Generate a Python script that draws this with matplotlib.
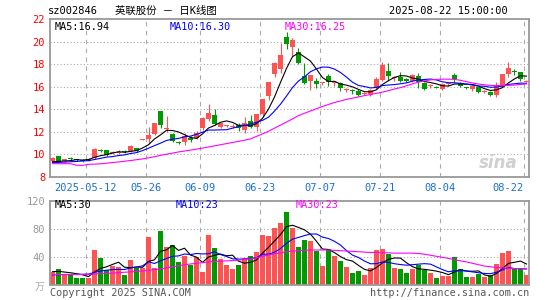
import numpy as np
import matplotlib
matplotlib.use('Agg')
import matplotlib.pyplot as plt

plt.rcParams['font.family'] = ['DejaVu Sans Mono', 'Noto Sans CJK SC']

# daily OHLC, 2025-04-29 .. 2025-08-22 (80 trading days)
opens = [9.42, 9.86, 9.42, 9.62, 9.56, 9.50, 9.45, 9.65, 10.38, 10.38,
         10.10, 10.16, 10.28, 10.30, 10.55, 11.28, 11.35, 11.80, 13.83, 12.28,
         11.85, 11.08, 11.07, 11.50, 11.48, 12.30, 13.16, 13.50, 12.40, 12.48,
         12.47, 12.64, 12.14, 12.99, 12.40, 13.60, 15.20, 17.10, 17.60, 20.40,
         19.54, 19.10, 16.97, 16.47, 16.53, 16.30, 16.97, 16.33, 16.32, 15.68,
         15.73, 15.65, 15.33, 15.32, 15.88, 16.60, 17.38, 16.74, 16.90, 16.65,
         16.47, 16.97, 16.32, 16.05, 15.97, 15.80, 16.20, 17.05, 16.30, 15.92,
         15.80, 15.95, 15.52, 15.56, 15.30, 16.15, 17.12, 17.38, 17.26, 16.45]
closes = [9.68, 9.35, 9.57, 9.58, 9.52, 9.46, 9.60, 10.52, 10.33, 9.98,
          10.17, 10.22, 10.24, 10.75, 10.30, 11.33, 11.68, 12.78, 12.58, 12.35,
          11.20, 11.02, 11.62, 11.30, 11.94, 13.20, 13.65, 12.72, 12.75, 12.54,
          12.53, 12.35, 12.75, 12.42, 13.60, 14.90, 16.45, 18.10, 18.85, 19.78,
          20.13, 18.10, 16.35, 17.03, 16.24, 16.35, 16.38, 16.38, 15.85, 15.72,
          15.60, 15.27, 15.38, 15.74, 16.68, 17.95, 16.95, 16.79, 16.55, 16.50,
          17.06, 16.38, 15.80, 16.10, 15.92, 16.20, 16.26, 16.70, 16.10, 15.86,
          16.08, 15.55, 15.58, 15.27, 16.10, 17.10, 17.65, 17.32, 16.70, 16.50]
highs = [9.75, 9.90, 9.60, 9.75, 9.60, 9.62, 9.70, 10.55, 10.52, 10.40,
         10.30, 10.35, 10.35, 10.82, 10.60, 11.36, 12.46, 12.80, 13.85, 13.42,
         11.90, 11.20, 11.90, 11.65, 12.05, 13.30, 14.50, 14.00, 12.80, 12.65,
         12.70, 12.75, 13.30, 13.50, 13.60, 14.95, 16.45, 18.15, 19.90, 20.87,
         20.30, 19.40, 18.10, 17.05, 16.80, 16.45, 17.12, 16.53, 16.44, 15.88,
         15.79, 15.79, 15.50, 15.79, 16.82, 18.20, 18.08, 16.91, 17.26, 16.75,
         17.10, 17.20, 16.40, 16.25, 16.05, 16.30, 16.40, 17.25, 16.45, 16.00,
         16.10, 16.00, 15.70, 15.65, 16.45, 17.15, 18.15, 17.60, 17.30, 16.60]
lows = [9.38, 9.30, 9.35, 9.45, 9.45, 9.32, 9.40, 9.60, 10.20, 9.90,
        10.00, 10.05, 10.12, 10.25, 10.25, 11.25, 11.00, 11.75, 12.35, 12.00,
        11.10, 10.90, 10.85, 11.10, 11.40, 12.20, 12.93, 12.58, 12.30, 12.40,
        12.35, 12.10, 11.90, 12.30, 12.10, 13.35, 14.80, 16.90, 17.20, 19.35,
        18.70, 18.00, 16.25, 15.75, 15.88, 16.15, 16.09, 16.09, 15.65, 15.50,
        15.35, 15.20, 15.25, 15.15, 15.79, 16.50, 16.50, 16.47, 16.44, 16.40,
        16.40, 15.90, 15.70, 15.90, 15.85, 15.70, 16.10, 16.40, 15.95, 15.80,
        15.60, 15.45, 15.45, 15.15, 15.10, 16.00, 16.90, 17.00, 16.50, 16.40]

ma5 = [9.36, 9.38, 9.42, 9.45, 9.54, 9.50, 9.55, 9.74, 9.89, 9.98,
       10.12, 10.24, 10.19, 10.27, 10.34, 10.57, 10.86, 11.37, 11.73, 12.14,
       12.12, 11.99, 11.75, 11.50, 11.42, 11.82, 12.34, 12.56, 12.85, 12.97,
       12.84, 12.58, 12.58, 12.52, 12.73, 13.20, 14.02, 15.09, 16.38, 17.62,
       18.66, 18.99, 18.64, 18.27, 17.56, 16.81, 16.46, 16.48, 16.24, 16.14,
       15.99, 15.76, 15.56, 15.54, 15.73, 16.20, 16.54, 16.82, 16.98, 16.95,
       16.77, 16.66, 16.46, 16.37, 16.25, 16.08, 16.06, 16.24, 16.24, 16.22,
       16.20, 16.06, 15.83, 15.67, 15.72, 15.92, 16.34, 16.69, 16.97, 16.94]
ma10 = [9.28, 9.30, 9.32, 9.35, 9.38, 9.42, 9.45, 9.55, 9.65, 9.76,
        9.81, 9.90, 9.96, 10.08, 10.16, 10.34, 10.55, 10.78, 11.00, 11.24,
        11.34, 11.42, 11.56, 11.62, 11.78, 11.97, 12.16, 12.16, 12.18, 12.19,
        12.33, 12.46, 12.57, 12.69, 12.85, 13.02, 13.30, 13.84, 14.45, 15.17,
        15.93, 16.51, 16.87, 17.33, 17.59, 17.74, 17.73, 17.56, 17.26, 16.85,
        16.40, 16.11, 16.02, 15.89, 15.94, 16.10, 16.15, 16.19, 16.26, 16.34,
        16.49, 16.60, 16.64, 16.68, 16.60, 16.43, 16.36, 16.35, 16.30, 16.24,
        16.14, 16.06, 16.04, 15.95, 15.97, 16.06, 16.20, 16.26, 16.32, 16.30]
ma30 = [9.18, 9.18, 9.18, 9.18, 9.04, 9.03, 9.12, 9.14, 9.17, 9.22,
        9.28, 9.33, 9.40, 9.46, 9.53, 9.60, 9.70, 9.80, 9.92, 10.02,
        10.12, 10.22, 10.30, 10.38, 10.47, 10.56, 10.66, 10.76, 10.86, 10.96,
        11.06, 11.16, 11.26, 11.38, 11.60, 11.82, 12.05, 12.33, 12.60, 12.87,
        13.15, 13.44, 13.65, 13.85, 14.05, 14.25, 14.43, 14.60, 14.74, 14.88,
        14.98, 15.10, 15.21, 15.31, 15.41, 15.52, 15.65, 15.80, 15.92, 16.08,
        16.25, 16.40, 16.52, 16.60, 16.65, 16.67, 16.67, 16.65, 16.57, 16.45,
        16.33, 16.24, 16.17, 16.12, 16.10, 16.10, 16.12, 16.15, 16.20, 16.25]

# volume (万手)
vol = [18, 23, 16, 14, 10, 10, 10, 50, 39, 21,
       27, 26, 14, 36, 25, 25, 69, 25, 77, 55,
       57, 33, 41, 28, 40, 19, 72, 53, 37, 28,
       23, 29, 39, 41, 47, 72, 70, 82, 89, 104,
       82, 54, 65, 63, 48, 27, 51, 42, 35, 26,
       17, 20, 14, 24, 50, 51, 44, 24, 23, 17,
       23, 28, 21, 17, 10, 13, 13, 40, 23, 11,
       11, 16, 11, 14, 30, 46, 49, 23, 23, 14]
vma5 = [19.0, 19.5, 18.5, 17.5, 16.2, 14.6, 12.0, 18.8, 23.8, 26.0,
        29.4, 32.6, 25.4, 24.8, 25.6, 25.2, 33.8, 36.0, 48.2, 50.2,
        56.6, 49.4, 52.6, 42.8, 39.8, 32.2, 40.0, 42.4, 44.2, 41.8,
        42.6, 34.0, 31.2, 32.4, 35.8, 45.6, 53.8, 62.8, 72.0, 83.4,
        85.4, 82.2, 78.8, 72.6, 62.4, 51.4, 50.8, 46.2, 40.6, 36.2,
        34.2, 28.0, 22.4, 20.2, 25.0, 31.8, 36.6, 38.6, 38.4, 31.8,
        26.2, 23.0, 22.4, 21.2, 19.8, 17.8, 14.8, 18.6, 21.8, 20.0,
        19.6, 20.2, 14.4, 12.6, 16.4, 23.4, 31.0, 32.4, 34.2, 30.0]
vma10 = [14.5, 14.8, 15.0, 15.0, 15.0, 15.2, 15.5, 18.0, 20.0, 21.1,
         22.0, 22.3, 22.1, 24.3, 25.8, 27.3, 33.2, 30.7, 34.5, 37.9,
         40.9, 41.6, 44.3, 43.5, 45.0, 44.4, 44.7, 47.5, 43.5, 40.8,
         37.4, 37.0, 36.8, 38.1, 38.8, 44.1, 43.9, 46.8, 52.0, 59.6,
         65.5, 68.0, 70.6, 72.8, 72.9, 68.4, 66.4, 62.4, 57.0, 49.2,
         42.7, 39.3, 34.2, 30.3, 30.5, 32.9, 32.2, 30.4, 29.2, 28.3,
         29.0, 29.8, 30.5, 29.8, 25.8, 22.0, 18.9, 20.5, 20.5, 19.9,
         18.7, 17.5, 16.5, 16.2, 18.2, 21.5, 25.1, 23.4, 23.4, 23.0]
vma30 = [15.0, 15.0, 15.0, 15.0, 15.0, 15.2, 15.4, 15.8, 16.2, 16.6,
         17.0, 17.6, 18.2, 18.8, 19.4, 20.0, 21.0, 22.0, 23.0, 24.5,
         26.0, 27.5, 29.0, 30.0, 31.0, 32.0, 33.0, 33.5, 34.0, 34.5,
         35.0, 35.5, 36.5, 37.5, 39.0, 41.0, 43.0, 44.5, 46.0, 47.5,
         48.5, 49.0, 49.5, 50.0, 50.0, 50.0, 50.0, 49.5, 49.0, 48.5,
         48.0, 47.5, 47.0, 46.5, 46.5, 46.0, 46.0, 45.5, 45.5, 45.5,
         45.5, 45.0, 44.0, 42.5, 41.0, 39.5, 38.0, 36.0, 34.5, 33.0,
         31.0, 29.0, 27.0, 26.0, 25.0, 24.5, 24.0, 23.5, 23.2, 23.0]

date_labels = ['2025-05-12', '05-26', '06-09', '06-23', '07-07', '07-21', '08-04', '08-22']
date_pos = [6, 16, 25, 35, 45, 55, 65, 79]
price_ticks = [8, 10, 12, 14, 16, 18, 20, 22]
vol_ticks = [40, 80, 120]

RED = '#ff5252'
GREEN = '#009a00'
FRAME = '#999999'
GRID = '#aaaaaa'

W, H = 545.0, 300.0
fig = plt.figure(figsize=(W / 100, H / 100), dpi=100)
ax = fig.add_axes([50 / W, 1 - 177 / H, 479 / W, 158 / H])
axv = fig.add_axes([50 / W, 1 - 285 / H, 479 / W, 84 / H])

o = np.array(opens); c = np.array(closes)
hi = np.array(highs); lo = np.array(lows)
idx = np.arange(len(c))
cols = np.where(c >= o, RED, GREEN)

xl = (-0.42, 79.42)
grid_x = np.array(date_pos) - 0.42

# ---- price panel
for y in price_ticks[1:-1]:
    ax.axhline(y, color=GRID, lw=0.8, ls=(0, (1, 2)), zorder=0)
for gx in grid_x:
    ax.axvline(gx, color=GRID, lw=0.8, ls=(0, (4, 4)), zorder=0)

ax.vlines(idx, lo, hi, colors=cols, lw=0.8, zorder=2)
body = np.maximum(np.abs(c - o), 0.09)
ax.bar(idx, body, bottom=np.minimum(o, c), width=0.8, color=cols, lw=0, zorder=3)

ax.plot(idx, ma5, color='black', lw=0.8, zorder=4)
ax.plot(idx, ma10, color='#0000ff', lw=0.8, zorder=4)
ax.plot(idx, ma30, color='#ff00ff', lw=0.8, zorder=4)

ax.set_xlim(*xl)
ax.set_ylim(8, 22)
ax.set_yticks(price_ticks)
ax.set_yticklabels([str(t) for t in price_ticks])
ax.tick_params(axis='y', length=0, pad=3.5, labelcolor='#ff0000', labelsize=7.5)
ax.set_xticks(grid_x)
ax.set_xticklabels(date_labels)
ax.tick_params(axis='x', length=0, pad=4, labelcolor='#1a6fd0', labelsize=7.5)
ax.get_xticklabels()[-1].set_ha('right')
ax.get_xticklabels()[-1].set_x(grid_x[-1] - 0.2)

ax.text(0.3, 21.3, 'MA5:%.2f' % ma5[-1], color='black', fontsize=7.3, va='center')
ax.text(19.6, 21.3, 'MA10:%.2f' % ma10[-1], color='#0000ff', fontsize=7.3, va='center')
ax.text(38.7, 21.3, 'MA30:%.2f' % ma30[-1], color='#ff00ff', fontsize=7.3, va='center')
ax.text(77.5, 9.2, 'sina', color='#d0d0d0', fontsize=12, style='italic',
        fontweight='bold', ha='right', va='center', family='DejaVu Sans', zorder=1)

# ---- volume panel
for y in vol_ticks[:-1]:
    axv.axhline(y, color=GRID, lw=0.8, ls=(0, (1, 2)), zorder=0)
for gx in grid_x:
    axv.axvline(gx, color=GRID, lw=0.8, ls=(0, (4, 4)), zorder=0)

axv.bar(idx, vol, width=0.8, color=cols, lw=0, zorder=2)
axv.plot(idx, vma5, color='black', lw=0.8, zorder=3)
axv.plot(idx, vma10, color='#0000ff', lw=0.8, zorder=3)
axv.plot(idx, vma30, color='#ff00ff', lw=0.8, zorder=3)

axv.set_xlim(*xl)
axv.set_ylim(0, 120)
axv.set_xticks([])
axv.set_yticks(vol_ticks)
axv.set_yticklabels([str(t) for t in vol_ticks])
axv.tick_params(axis='y', length=0, pad=3.5, labelcolor='#999999', labelsize=7.5)

axv.text(0.3, 114, 'MA5:%d' % round(vma5[-1]), color='black', fontsize=7.3, va='center')
axv.text(20.6, 114, 'MA10:%d' % round(vma10[-1]), color='#0000ff', fontsize=7.3, va='center')
axv.text(40.6, 114, 'MA30:%d' % round(vma30[-1]), color='#ff00ff', fontsize=7.3, va='center')

for a in (ax, axv):
    for s in a.spines.values():
        s.set_color(FRAME)
        s.set_linewidth(1.3)

# ---- header and footer
def px(x, y):
    return x / W, 1 - y / H

fig.text(*px(48, 11), 'sz002846', fontsize=7.5, va='center', color='black')
fig.text(*px(115, 10.5), '英联股份 － 日K线图', fontsize=7.5, va='center', color='black')
fig.text(*px(508, 11), '2025-08-22 15:00:00', fontsize=7.5, va='center', ha='right', color='black')
fig.text(*px(44, 287), '万', fontsize=7, va='center', ha='right', color='#aaaaaa')
fig.text(*px(50, 293), 'Copyright 2025 SINA.COM', fontsize=7.3, va='center', color='#555555')
fig.text(*px(529, 293), 'http://finance.sina.com.cn', fontsize=7.3, va='center', ha='right', color='#555555')

fig.savefig('out.png', dpi=100, facecolor='white')
